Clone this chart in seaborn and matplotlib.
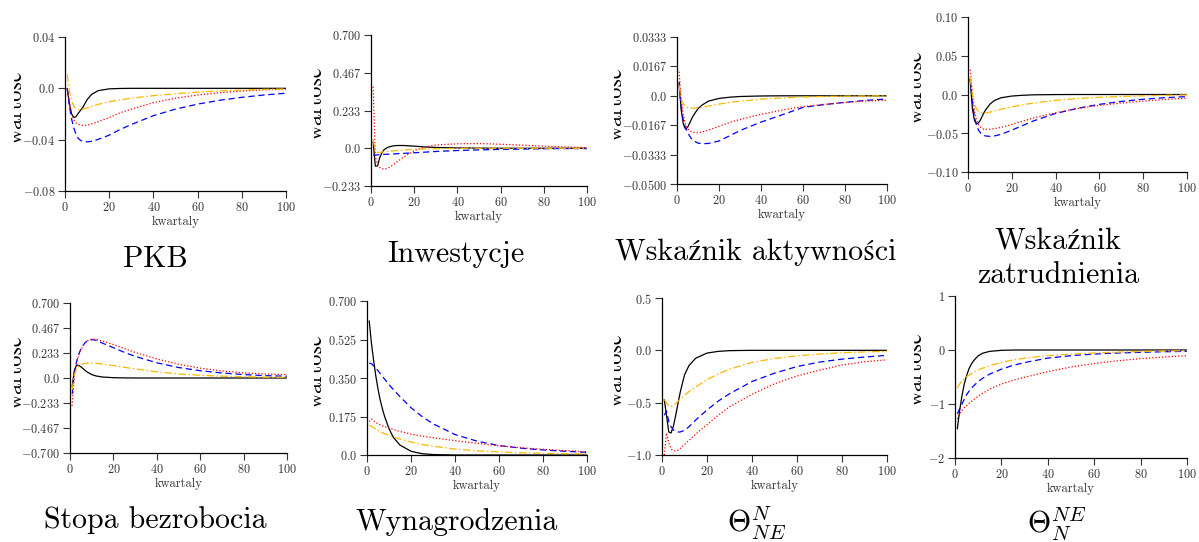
import numpy as np
import pandas as pd
import matplotlib
matplotlib.use("Agg")
import matplotlib.pyplot as plt
import seaborn as sns
from matplotlib.transforms import Bbox, TransformedBbox

# ---------------- data ----------------
quarters = [1, 2, 3, 4, 5, 6, 7, 8, 10, 12, 15, 20, 25, 30, 40, 50, 60, 70, 80, 90, 100]
series_names = ["wariant 1", "wariant 2", "wariant 3", "wariant 4"]  # black, blue, red, orange

# PKB
pkb_black = [0.0, -0.012, -0.020, -0.0228, -0.022, -0.0195, -0.0172, -0.015, -0.0088, -0.0048, -0.0018, -0.0004, -0.0001, 0, 0, 0, 0, 0, 0, 0, 0]
pkb_blue = [0.0, -0.014, -0.024, -0.031, -0.036, -0.039, -0.0405, -0.0413, -0.0417, -0.0413, -0.0398, -0.0365, -0.032, -0.0282, -0.0213, -0.0162, -0.0123, -0.0093, -0.007, -0.0052, -0.0038]
pkb_red = [0.0, -0.012, -0.020, -0.0245, -0.027, -0.028, -0.0286, -0.0289, -0.0287, -0.0278, -0.026, -0.0228, -0.019, -0.0162, -0.0112, -0.0077, -0.0052, -0.0034, -0.0021, -0.0012, -0.0006]
pkb_orange = [0.011, -0.002, -0.010, -0.014, -0.0158, -0.0165, -0.0166, -0.0163, -0.0152, -0.014, -0.0125, -0.0105, -0.009, -0.0077, -0.0057, -0.0042, -0.003, -0.002, -0.0013, -0.0008, -0.0005]

# Inwestycje
inw_black = [0.04, -0.11, -0.11, -0.06, -0.03, -0.01, 0.0, 0.007, 0.014, 0.017, 0.017, 0.013, 0.008, 0.005, 0.002, 0.001, 0, 0, 0, 0, 0]
inw_blue = [-0.042, -0.042, -0.041, -0.040, -0.039, -0.038, -0.037, -0.037, -0.036, -0.034, -0.032, -0.028, -0.024, -0.020, -0.014, -0.010, -0.007, -0.005, -0.003, -0.002, -0.002]
inw_red = [0.38, -0.05, -0.10, -0.118, -0.125, -0.128, -0.127, -0.122, -0.105, -0.085, -0.055, -0.015, 0.008, 0.020, 0.028, 0.029, 0.025, 0.019, 0.013, 0.008, 0.004]
inw_orange = [0.055, -0.020, -0.026, -0.025, -0.024, -0.022, -0.021, -0.020, -0.017, -0.014, -0.011, -0.007, -0.004, -0.003, -0.001, 0, 0, 0, 0, 0, 0]

# Wskaznik aktywnosci
akt_black = [0.0077, -0.008, -0.016, -0.0188, -0.018, -0.0155, -0.013, -0.0108, -0.0073, -0.0052, -0.003, -0.0015, -0.0008, -0.0004, -0.0001, 0, 0, 0, 0, 0, 0]
akt_blue = [0.006, -0.006, -0.014, -0.018, -0.0205, -0.0228, -0.0245, -0.0256, -0.0268, -0.0272, -0.027, -0.0256, -0.0227, -0.0197, -0.0149, -0.0108, -0.0066, -0.005, -0.0037, -0.0026, -0.0018]
akt_red = [0.0137, -0.002, -0.011, -0.016, -0.0185, -0.0198, -0.0205, -0.0208, -0.021, -0.0205, -0.0195, -0.0173, -0.0152, -0.0134, -0.0105, -0.0081, -0.0061, -0.0049, -0.0038, -0.003, -0.0025]
akt_orange = [0.006, -0.002, -0.0045, -0.006, -0.0066, -0.0069, -0.007, -0.007, -0.0068, -0.0064, -0.0058, -0.0047, -0.0038, -0.0031, -0.0019, -0.0012, -0.0007, -0.0004, -0.0002, -0.0001, 0.0]

# Wskaznik zatrudnienia
zat_black = [0.020, -0.018, -0.034, -0.038, -0.036, -0.031, -0.025, -0.020, -0.0125, -0.0078, -0.0043, -0.002, -0.001, -0.0004, -0.0001, 0, 0, 0, 0, 0, 0]
zat_blue = [0.020, -0.010, -0.030, -0.041, -0.047, -0.0505, -0.0525, -0.0535, -0.054, -0.0535, -0.0515, -0.046, -0.040, -0.034, -0.0245, -0.0178, -0.0127, -0.0089, -0.0061, -0.0041, -0.0027]
zat_red = [0.032, 0.0, -0.022, -0.034, -0.040, -0.043, -0.0445, -0.0449, -0.0448, -0.0441, -0.0425, -0.0387, -0.0343, -0.0302, -0.0235, -0.0181, -0.014, -0.011, -0.0085, -0.0064, -0.0048]
zat_orange = [0.022, 0.0, -0.013, -0.019, -0.022, -0.0235, -0.024, -0.0238, -0.0228, -0.0213, -0.019, -0.0158, -0.0132, -0.011, -0.0075, -0.0052, -0.0036, -0.0025, -0.0017, -0.001, -0.0005]

# Stopa bezrobocia
bez_black = [-0.08, 0.07, 0.12, 0.118, 0.105, 0.088, 0.07, 0.055, 0.032, 0.019, 0.009, 0.003, 0.001, 0, 0, 0, 0, 0, 0, 0, 0]
bez_blue = [-0.15, 0.04, 0.15, 0.22, 0.27, 0.305, 0.33, 0.348, 0.358, 0.352, 0.325, 0.283, 0.24, 0.202, 0.142, 0.098, 0.068, 0.047, 0.032, 0.022, 0.016]
bez_red = [-0.26, 0.02, 0.14, 0.21, 0.26, 0.30, 0.33, 0.348, 0.363, 0.36, 0.345, 0.312, 0.275, 0.24, 0.178, 0.129, 0.092, 0.066, 0.048, 0.037, 0.031]
bez_orange = [-0.11, 0.03, 0.085, 0.11, 0.124, 0.132, 0.136, 0.138, 0.138, 0.136, 0.13, 0.116, 0.10, 0.085, 0.057, 0.038, 0.025, 0.017, 0.012, 0.008, 0.006]

# Wynagrodzenia
wyn_black = [0.61, 0.51, 0.43, 0.36, 0.30, 0.25, 0.21, 0.175, 0.12, 0.08, 0.045, 0.017, 0.006, 0.002, 0, 0, 0, 0, 0, 0, 0]
wyn_blue = [0.418, 0.415, 0.405, 0.395, 0.383, 0.37, 0.357, 0.345, 0.32, 0.297, 0.265, 0.215, 0.175, 0.142, 0.093, 0.063, 0.043, 0.031, 0.023, 0.017, 0.012]
wyn_red = [0.152, 0.164, 0.155, 0.148, 0.142, 0.137, 0.133, 0.129, 0.122, 0.116, 0.107, 0.095, 0.086, 0.079, 0.065, 0.053, 0.042, 0.033, 0.026, 0.02, 0.015]
wyn_orange = [0.136, 0.13, 0.124, 0.118, 0.112, 0.106, 0.101, 0.097, 0.089, 0.082, 0.072, 0.059, 0.048, 0.04, 0.027, 0.019, 0.014, 0.01, 0.008, 0.006, 0.005]

# Theta_NE^N
tne_black = [-0.47, -0.62, -0.78, -0.79, -0.73, -0.63, -0.52, -0.41, -0.235, -0.145, -0.075, -0.026, -0.01, -0.003, 0, 0, 0, 0, 0, 0, 0]
tne_blue = [-0.62, -0.58, -0.68, -0.73, -0.76, -0.775, -0.78, -0.78, -0.765, -0.73, -0.665, -0.57, -0.485, -0.415, -0.298, -0.218, -0.155, -0.112, -0.084, -0.064, -0.048]
tne_red = [-1.0, -0.79, -0.88, -0.94, -0.96, -0.96, -0.955, -0.94, -0.9, -0.86, -0.8, -0.71, -0.62, -0.54, -0.42, -0.32, -0.245, -0.19, -0.14, -0.11, -0.09]
tne_orange = [-0.47, -0.50, -0.53, -0.535, -0.525, -0.51, -0.49, -0.47, -0.43, -0.395, -0.35, -0.28, -0.225, -0.18, -0.115, -0.078, -0.052, -0.035, -0.023, -0.015, -0.01]

# Theta_N^NE
tn_black = [-1.46, -1.12, -0.85, -0.63, -0.475, -0.35, -0.265, -0.2, -0.107, -0.058, -0.025, -0.006, -0.001, 0, 0, 0, 0, 0, 0, 0, 0]
tn_blue = [-1.18, -1.09, -1.0, -0.91, -0.83, -0.765, -0.71, -0.665, -0.585, -0.52, -0.445, -0.355, -0.285, -0.232, -0.15, -0.105, -0.075, -0.056, -0.043, -0.032, -0.025]
tn_red = [-1.28, -1.19, -1.12, -1.07, -1.03, -0.99, -0.955, -0.92, -0.855, -0.8, -0.725, -0.63, -0.56, -0.505, -0.4, -0.315, -0.25, -0.2, -0.16, -0.13, -0.105]
tn_orange = [-0.70, -0.63, -0.575, -0.53, -0.495, -0.465, -0.44, -0.415, -0.37, -0.335, -0.29, -0.23, -0.185, -0.15, -0.105, -0.075, -0.055, -0.04, -0.028, -0.019, -0.013]

titles = ["PKB", "Inwestycje", "Wskaźnik aktywności", "Wskaźnik\nzatrudnienia",
          "Stopa bezrobocia", "Wynagrodzenia", r"$\Theta_{NE}^{N}$", r"$\Theta_{N}^{NE}$"]

panel_series = [
    (pkb_black, pkb_blue, pkb_red, pkb_orange),
    (inw_black, inw_blue, inw_red, inw_orange),
    (akt_black, akt_blue, akt_red, akt_orange),
    (zat_black, zat_blue, zat_red, zat_orange),
    (bez_black, bez_blue, bez_red, bez_orange),
    (wyn_black, wyn_blue, wyn_red, wyn_orange),
    (tne_black, tne_blue, tne_red, tne_orange),
    (tn_black, tn_blue, tn_red, tn_orange),
]

ytick_labels = [
    ["-0.08", "-0.04", "0.0", "0.04"],
    ["-0.233", "0.0", "0.233", "0.467", "0.700"],
    ["-0.0500", "-0.0333", "-0.0167", "0.0", "0.0167", "0.0333"],
    ["-0.10", "-0.05", "0.0", "0.05", "0.10"],
    ["-0.700", "-0.467", "-0.233", "0.0", "0.233", "0.467", "0.700"],
    ["0.0", "0.175", "0.350", "0.525", "0.700"],
    ["-1.0", "-0.5", "0.0", "0.5"],
    ["-2", "-1", "0", "1"],
]
ytick_values = [
    [-0.08, -0.04, 0.0, 0.04],
    [-0.7 / 3, 0.0, 0.7 / 3, 1.4 / 3, 0.7],
    [-0.05, -0.1 / 3, -0.05 / 3, 0.0, 0.05 / 3, 0.1 / 3],
    [-0.10, -0.05, 0.0, 0.05, 0.10],
    [-0.7, -1.4 / 3, -0.7 / 3, 0.0, 0.7 / 3, 1.4 / 3, 0.7],
    [0.0, 0.175, 0.35, 0.525, 0.7],
    [-1.0, -0.5, 0.0, 0.5],
    [-2, -1, 0, 1],
]
xtick_values = [0, 20, 40, 60, 80, 100]

# ---------------- style ----------------
sns.set_style("ticks")
plt.rcParams["font.family"] = ["cmr10", "STIXGeneral"]
plt.rcParams["mathtext.fontset"] = "cm"
plt.rcParams["axes.unicode_minus"] = False
plt.rcParams["text.color"] = "black"
plt.rcParams["axes.labelcolor"] = "black"

W, H = 1199, 542
fig = plt.figure(figsize=(W / 100, H / 100), dpi=100)

# axes boxes in pixels: left, top, right, bottom
boxes = [
    (65, 37, 286, 191), (371, 35, 587, 186), (677, 37, 887, 184), (968, 17, 1187, 172),
    (70, 303, 287, 453), (367, 301, 587, 455), (662, 298, 887, 455), (955, 296, 1187, 458),
]
panel_x = [0, 300, 600, 900, 0, 300, 600, 900]
label_cy = [107, 103, 104, 87, 372, 371, 370, 369]
title_x = [155, 456, 756, 1058, 155, 457, 757, 1057]
title_base = [267, 262, 260, 283, 528, 530, 532, 533]

palette = {series_names[0]: "#000000", series_names[1]: "#0000ff",
           series_names[2]: "#ff0000", series_names[3]: "#ffb800"}
dashes = {series_names[0]: "", series_names[1]: (5, 3),
          series_names[2]: (1, 1.6), series_names[3]: (6, 2, 1.2, 2)}

for i, (series, box) in enumerate(zip(panel_series, boxes)):
    l, t, r, b = box
    ax = fig.add_axes([l / W, 1 - b / H, (r - l) / W, (b - t) / H])
    df = pd.DataFrame({
        "kwartal": quarters * 4,
        "wartosc": [v for s in series for v in s],
        "seria": np.repeat(series_names, len(quarters)),
    })
    sns.lineplot(data=df, x="kwartal", y="wartosc", hue="seria", style="seria",
                 palette=palette, dashes=dashes, estimator=None, errorbar=None,
                 legend=False, ax=ax, linewidth=0.9)
    yt = ytick_values[i]
    ax.set_xlim(0, 100)
    ax.set_ylim(yt[0], yt[-1])
    ax.set_xticks(xtick_values, labels=[f"${v}$" for v in xtick_values])
    ax.set_yticks(yt, labels=[f"${s}$" for s in ytick_labels[i]])
    ax.tick_params(direction="out", length=5, width=0.8, labelsize=8.8, pad=2,
                   colors="#333333")
    sns.despine(ax=ax)
    for sp in ("left", "bottom"):
        ax.spines[sp].set_linewidth(0.9)
        ax.spines[sp].set_color("#000000")
    ax.set_xlabel("kwartaly", fontsize=9, labelpad=1.5, color="#333333")
    lab = ax.set_ylabel("wartość", fontsize=16)
    lab.set_verticalalignment("baseline")
    px = panel_x[i]
    ax.yaxis.set_label_coords((px + 22) / W, 1 - label_cy[i] / H, transform=fig.transFigure)
    lab.set_clip_box(TransformedBbox(Bbox([[(px + 13.5) / W, 0], [(px + 60) / W, 1]]),
                                     fig.transFigure))
    lab.set_clip_on(True)
    fig.text(title_x[i] / W, 1 - title_base[i] / H, titles[i], fontsize=21.5,
             ha="center", va="baseline", linespacing=1.35, color="black")

fig.savefig("out.png", dpi=100)
